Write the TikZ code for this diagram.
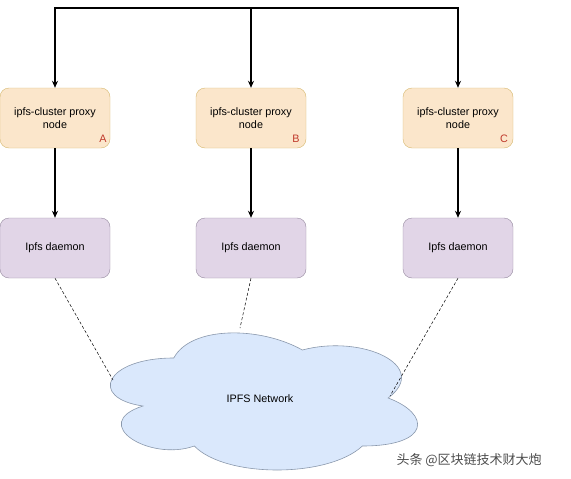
\documentclass[tikz,border=0pt]{standalone}
\usepackage{fontspec}
\setmainfont{Liberation Sans}
\newfontfamily\cjk{Noto Sans CJK SC}
\usetikzlibrary{arrows.meta}

\definecolor{proxyfill}{HTML}{FBE6CB}
\definecolor{proxyline}{HTML}{D6B86E}
\definecolor{daemonfill}{HTML}{E1D5E7}
\definecolor{daemonline}{HTML}{968AA0}
\definecolor{netfill}{HTML}{DAE8FC}
\definecolor{netline}{HTML}{8A98AC}
\definecolor{tagred}{HTML}{C0392B}

\tikzset{
  box/.style={rounded corners=9pt, minimum width=110pt, minimum height=60pt,
    align=center, inner sep=0pt, font=\fontsize{10.8}{13}\selectfont},
  proxy/.style={box, draw=proxyline, fill=proxyfill},
  daemon/.style={box, draw=daemonline, fill=daemonfill},
  tag/.style={text=tagred, font=\fontsize{10.8}{13}\selectfont},
  flow/.style={line width=1.3pt, -{Stealth[length=7pt,width=6pt]}},
  link/.style={densely dashed, line width=0.5pt},
}

\begin{document}
\begin{tikzpicture}[x=1pt, y=-1pt]
		%%%%% START %%%%%
		\useasboundingbox (0,0) rectangle (571,479);
		
		% proxies
		\node[proxy] (pA) at (55, 118) {ipfs-cluster proxy\\node};
		\node[proxy] (pB) at (251, 118) {ipfs-cluster proxy\\node};
		\node[proxy] (pC) at (458, 118) {ipfs-cluster proxy\\node};
		\node[tag] (tA) at (103, 139) {A};
		\node[tag] (tB) at (296, 139) {B};
		\node[tag] (tC) at (504, 139) {C};
		
		% daemons
		\node[daemon] (dA) at (55, 248) {Ipfs daemon};
		\node[daemon] (dB) at (251, 248) {Ipfs daemon};
		\node[daemon] (dC) at (458, 248) {Ipfs daemon};
		
		% top bus
		\coordinate (bus) at (251, 8);
		\draw[flow] (bus) -| (pA);
		\draw[flow] (bus) -- (pB);
		\draw[flow] (bus) -| (pC);
		
		\draw[flow] (pA) -- (dA);
		\draw[flow] (pB) -- (dB);
		\draw[flow] (pC) -- (dC);
		
		% cloud (box 88,318 343x160)
		\draw[fill=netfill, draw=netline, line width=0.6pt]
			(173.75, 358) .. controls (105.15, 358) and (88, 398) .. (142.88, 406)
			.. controls (88, 423.6) and (149.74, 462) .. (194.33, 446)
			.. controls (225.2, 478) and (328.1, 478) .. (362.4, 446)
			.. controls (431, 446) and (431, 414) .. (388.13, 398)
			.. controls (431, 366) and (362.4, 334) .. (302.38, 350)
			.. controls (259.5, 326) and (190.9, 326) .. (173.75, 358) -- cycle;
		\node[font=\fontsize{10.8}{13}\selectfont] (net) at (260, 399) {IPFS Network};
		\coordinate (netA) at (113, 380);
		\coordinate (netB) at (240, 328);
		\coordinate (netC) at (390, 396);
		
		\draw[link] (dA.south) -- (netA);
		\draw[link] (dB.south) -- (netB);
		\draw[link] (dC.south) -- (netC);
		
		% watermark
		\node[anchor=west, text=black!70, font=\cjk\fontsize{13}{15}\selectfont] (mark) at (393, 460) {头条 @区块链技术财大炮};
		
		%%%%% END %%%%%
	\end{tikzpicture}
\end{document}
